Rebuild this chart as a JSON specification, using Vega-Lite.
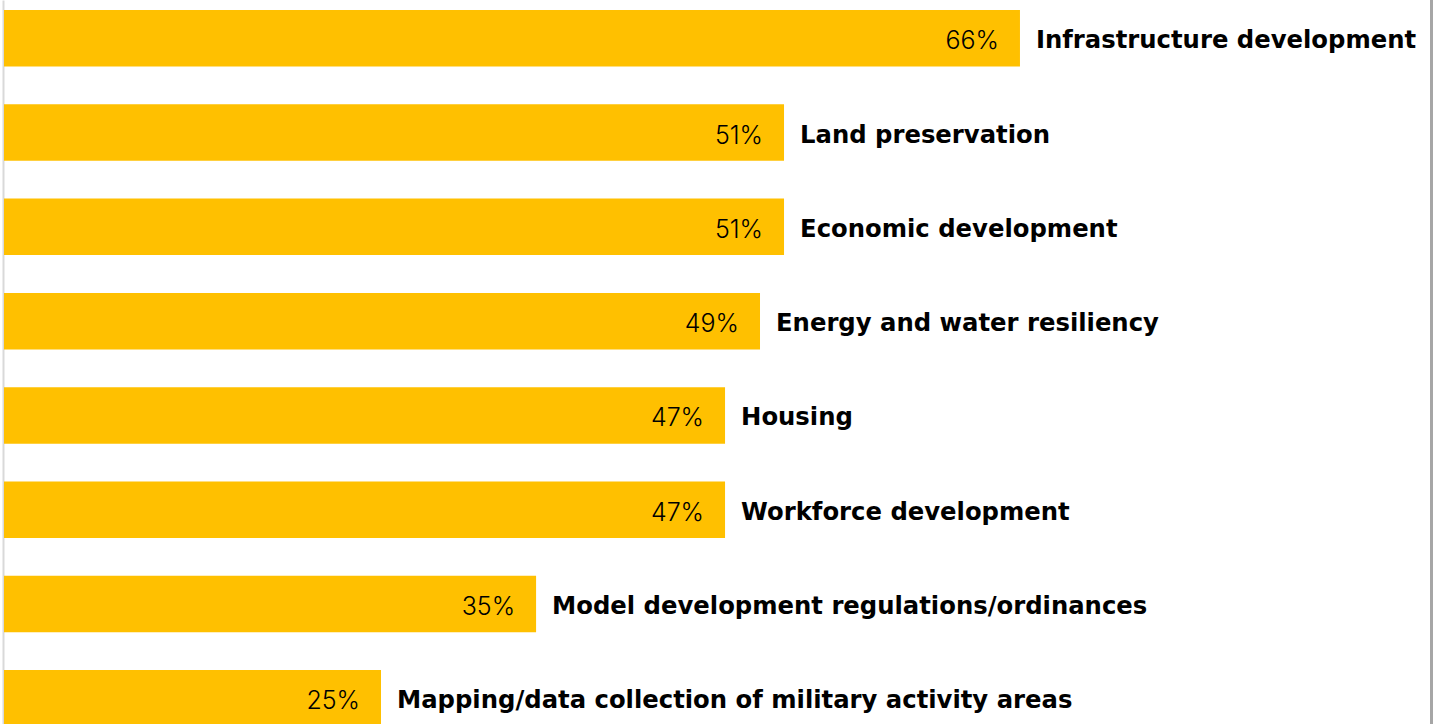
{
  "$schema": "https://vega.github.io/schema/vega-lite/v6.json",
  "width": 1427,
  "height": 724,
  "autosize": {"type": "none"},
  "padding": {"left": 4, "top": 0, "right": 3, "bottom": 0},
  "background": "white",
  "config": {"view": {"stroke": null}},
  "data": {
    "values": [
      {"category": "Infrastructure development", "value": 65.97, "label": "66%"},
      {"category": "Land preservation", "value": 50.65, "label": "51%"},
      {"category": "Economic development", "value": 50.65, "label": "51%"},
      {"category": "Energy and water resiliency", "value": 49.09, "label": "49%"},
      {"category": "Housing", "value": 46.82, "label": "47%"},
      {"category": "Workforce development", "value": 46.82, "label": "47%"},
      {"category": "Model development regulations/ordinances", "value": 34.55, "label": "35%"},
      {"category": "Mapping/data collection of military activity areas", "value": 24.48, "label": "25%"}
    ]
  },
  "encoding": {
    "y": {
      "field": "category",
      "type": "nominal",
      "sort": null,
      "scale": {"range": [0, 736.6], "paddingInner": 0.401, "paddingOuter": 0.106},
      "axis": {"labels": false, "ticks": false, "title": null, "domain": true, "domainColor": "#d9d9d9", "domainWidth": 2, "offset": 1, "grid": false}
    },
    "x": {
      "field": "value",
      "type": "quantitative",
      "scale": {"domain": [0, 92.66], "nice": false, "zero": true},
      "axis": {"values": [92.66], "grid": true, "gridColor": "#a6a6a6", "gridWidth": 3, "domain": false, "ticks": false, "labels": false, "title": null}
    }
  },
  "layer": [
    {"mark": {"type": "bar", "color": "#FFC000"}},
    {
      "mark": {"type": "text", "align": "right", "baseline": "middle", "dx": -21, "dy": 3, "font": "Inter", "fontSize": 25, "fontWeight": 300, "color": "#000000"},
      "encoding": {"text": {"field": "label"}}
    },
    {
      "mark": {"type": "text", "align": "left", "baseline": "middle", "dx": 16, "dy": 3, "font": "DejaVu Sans", "fontSize": 24.3, "fontWeight": "bold", "color": "#000000"},
      "encoding": {"text": {"field": "category"}}
    }
  ]
}
